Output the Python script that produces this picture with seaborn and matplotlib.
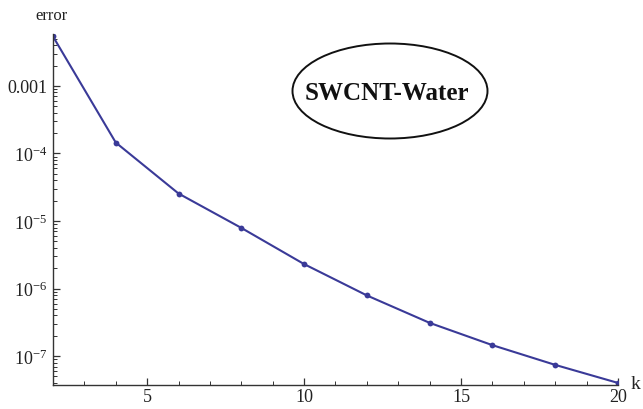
import matplotlib
matplotlib.use("Agg")
import matplotlib.pyplot as plt
from matplotlib.patches import Ellipse
from matplotlib.ticker import FixedLocator, LogLocator, FuncFormatter, MultipleLocator
import seaborn as sns
import pandas as pd

k_values = [2, 4, 6, 8, 10, 12, 14, 16, 18, 20]
error_values = [5.4e-3, 1.45e-4, 2.55e-5, 7.9e-6, 2.3e-6, 7.9e-7, 3.1e-7, 1.45e-7, 7.4e-8, 4.0e-8]
y_tick_values = [1e-3, 1e-4, 1e-5, 1e-6, 1e-7]
y_tick_labels = ["0.001", r"$10^{-4}$", r"$10^{-5}$", r"$10^{-6}$", r"$10^{-7}$"]
x_tick_values = [5, 10, 15, 20]
fluid_label = "SWCNT-Water"

sns.set_theme(style="white")
plt.rcParams["font.family"] = ["Liberation Serif", "DejaVu Serif"]
plt.rcParams["mathtext.fontset"] = "custom"
plt.rcParams["mathtext.rm"] = "Liberation Serif"
plt.rcParams["mathtext.it"] = "Liberation Serif"

df = pd.DataFrame({"k": k_values, "error": error_values})

fig = plt.figure(figsize=(6.43, 4.10), dpi=100)
ax = fig.add_axes([0.0824, 0.058, 0.8787, 0.857])

line_color = "#3a3a98"
sns.lineplot(data=df, x="k", y="error", ax=ax, color=line_color, linewidth=1.5,
             marker="o", markersize=4.2, markeredgewidth=0, markerfacecolor=line_color)

ax.set_yscale("log")
ax.set_xlim(2, 20)
ax.set_ylim(3.7e-8, 5.9e-3)

ax.yaxis.set_major_locator(FixedLocator(y_tick_values))
ax.yaxis.set_major_formatter(FuncFormatter(
    lambda v, pos: dict(zip(y_tick_values, y_tick_labels)).get(v, "")))
ax.yaxis.set_minor_locator(LogLocator(base=10, subs=range(2, 10), numticks=20))
ax.xaxis.set_major_locator(FixedLocator(x_tick_values))
ax.xaxis.set_minor_locator(MultipleLocator(1))

for side in ("top", "right"):
    ax.spines[side].set_visible(False)
for side in ("left", "bottom"):
    ax.spines[side].set_color("#333333")
    ax.spines[side].set_linewidth(1.0)

ax.tick_params(axis="both", which="major", direction="in", length=5, width=0.9,
               colors="#333333", labelsize=13, labelcolor="#222222")
ax.tick_params(axis="both", which="minor", direction="in", length=3, width=0.7,
               colors="#333333")
ax.tick_params(axis="x", which="major", pad=2)
ax.tick_params(axis="y", which="major", pad=4)
ax.tick_params(axis="x", which="both", bottom=True)
ax.tick_params(axis="y", which="both", left=True)

ax.set_xlabel("")
ax.set_ylabel("")
fig.text(51 / 643, 1 - 16 / 410, "error", fontsize=12, ha="center", va="center", color="#222222")
fig.text(636 / 643, 1 - 385 / 410, "k", fontsize=14, ha="center", va="center", color="#222222")

ellipse = Ellipse((390 / 643, 1 - 92 / 410), 195 / 643, 95 / 410, transform=fig.transFigure,
                  facecolor="none", edgecolor="#111111", linewidth=1.4)
fig.add_artist(ellipse)
fig.text(387 / 643, 1 - 93 / 410, fluid_label, fontsize=18, fontweight="bold",
         ha="center", va="center", color="#111111")

fig.savefig("out.png", dpi=100)
